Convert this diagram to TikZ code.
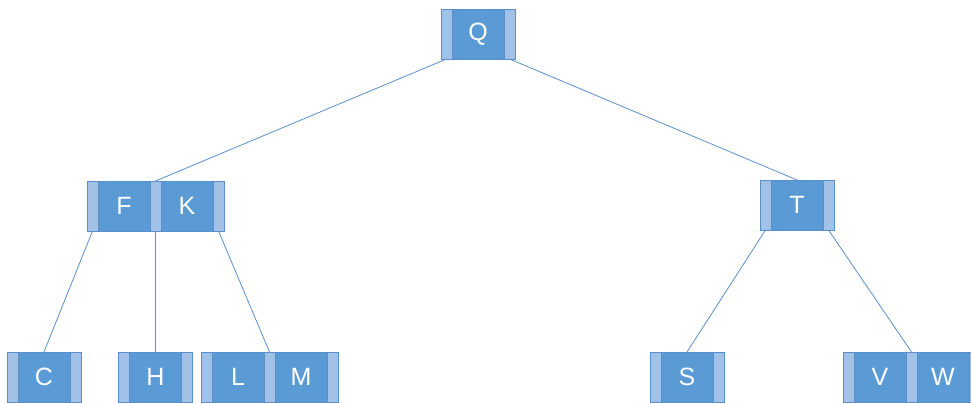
\documentclass[tikz,border=0pt]{standalone}
\usepackage{fontspec}
\setmainfont{Liberation Sans}
\usetikzlibrary{positioning}
\definecolor{keyblue}{HTML}{5B9BD5}
\definecolor{ptrblue}{HTML}{A2C1E6}
\definecolor{lineblue}{HTML}{5A8FCB}
\begin{document}
\begin{tikzpicture}[x=1pt, y=1pt,
    key/.style={draw=lineblue, fill=keyblue, text=white, minimum width=52pt,
        minimum height=50pt, inner sep=0pt, outer sep=0pt,
        font=\fontsize{25}{30}\selectfont},
    ptr/.style={draw=lineblue, fill=ptrblue, minimum width=11pt,
        minimum height=50pt, inner sep=0pt, outer sep=0pt},
    edge/.style={draw=lineblue, line width=0.8pt}]
    \useasboundingbox (0,0) rectangle (971,403);

    % Gốc
    \node[key] (q) at (478,369) {Q};
    \node[ptr, left=0pt of q] (q0) {};
    \node[ptr, right=0pt of q] (q1) {};

    % Tầng giữa
    \node[key] (f) at (124,197) {F};
    \node[ptr, left=0pt of f] (f0) {};
    \node[ptr, right=0pt of f] (fk) {};
    \node[key, right=0pt of fk] (k) {K};
    \node[ptr, right=0pt of k] (k1) {};

    \node[key] (t) at (797,198) {T};
    \node[ptr, left=0pt of t] (t0) {};
    \node[ptr, right=0pt of t] (t1) {};

    % Các lá
    \node[key] (c) at (44,26) {C};
    \node[ptr, left=0pt of c] (c0) {};
    \node[ptr, right=0pt of c] (c1) {};

    \node[key] (h) at (155.5,26) {H};
    \node[ptr, left=0pt of h] (h0) {};
    \node[ptr, right=0pt of h] (h1) {};

    \node[key] (l) at (238,26) {L};
    \node[ptr, left=0pt of l] (l0) {};
    \node[ptr, right=0pt of l] (lm) {};
    \node[key, right=0pt of lm] (m) {M};
    \node[ptr, right=0pt of m] (m1) {};

    \node[key] (s) at (687,26) {S};
    \node[ptr, left=0pt of s] (s0) {};
    \node[ptr, right=0pt of s] (s1) {};

    \node[key] (v) at (880,26) {V};
    \node[ptr, left=0pt of v] (v0) {};
    \node[ptr, right=0pt of v] (vw) {};
    \node[key, right=0pt of vw] (w) {W};
    \node[ptr, right=0pt of w] (w1) {};

    % Con trỏ
    \draw[edge] (q0.south) -- (fk.north);
    \draw[edge] (q1.south) -- (t.north);
    \draw[edge] (f0.south) -- (c.north);
    \draw[edge] (fk.south) -- (h.north);
    \draw[edge] (k1.south) -- (lm.north);
    \draw[edge] (t0.south) -- (s.north);
    \draw[edge] (t1.south) -- (vw.north);
\end{tikzpicture}
\end{document}
